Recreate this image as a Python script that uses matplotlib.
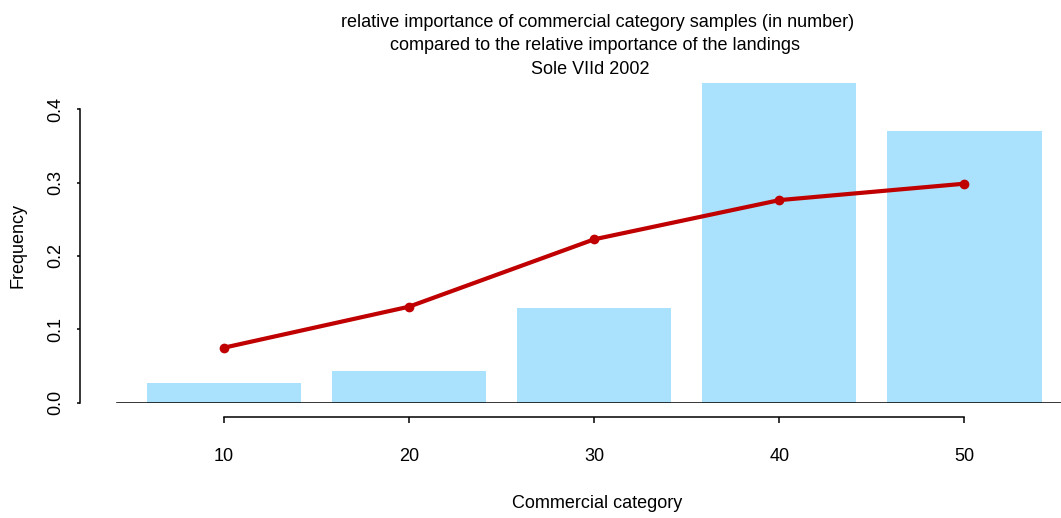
import matplotlib
matplotlib.use("Agg")
import matplotlib.pyplot as plt
from matplotlib import font_manager

# ---- data ----
categories = ["10", "20", "30", "40", "50"]
sample_freq = [0.0272, 0.0432, 0.1286, 0.4351, 0.3700]     # bars
landing_freq = [0.0749, 0.1308, 0.2226, 0.2760, 0.2984]     # red line
title_lines = ["relative importance of commercial category samples (in number)",
               "compared to the relative importance of the landings",
               "Sole VIId 2002"]
yticks = [0.0, 0.1, 0.2, 0.3, 0.4]

names = {f.name for f in font_manager.fontManager.ttflist}
FAM = ["Liberation Sans Narrow", "Liberation Sans"] if "Liberation Sans Narrow" in names else ["Liberation Sans", "DejaVu Sans"]
plt.rcParams["font.family"] = FAM
FS = 13

W, H, DPI = 1061, 518, 100
fig = plt.figure(figsize=(W / DPI, H / DPI), dpi=DPI)

# axes placement in pixels
left_px, right_px, top_px, bot_px = 110, 1061, 70, 402.7
ax = fig.add_axes([left_px / W, (H - bot_px) / H, (right_px - left_px) / W, (bot_px - top_px) / H])

# R barplot positions: width 1, space 0.2
pos = [0.7 + 1.2 * i for i in range(len(categories))]
bar_color = "#AAE1FC"
ax.bar(pos, sample_freq, width=1.0, color=bar_color, edgecolor="none", zorder=2)
ax.plot(pos, landing_freq, color="#C00000", lw=3.0, marker="o", ms=6, zorder=4,
        solid_capstyle="round")
ax.plot([0.008, 6.3], [0, 0], color="black", lw=1.1, zorder=3, clip_on=True)

ax.set_xlim(-0.0376, 6.1257)
ax.set_ylim(0, 0.4533)

for s in ["top", "right"]:
    ax.spines[s].set_visible(False)
pt = 72 / DPI
ax.spines["left"].set_position(("outward", 30.5 * pt))
ax.spines["left"].set_bounds(0, 0.4)
ax.spines["bottom"].set_position(("outward", 14 * pt))
ax.spines["bottom"].set_bounds(pos[0], pos[-1])
for s in ["left", "bottom"]:
    ax.spines[s].set_linewidth(1.1)

ax.set_yticks(yticks)
ax.set_yticklabels([f"{v:.1f}" for v in yticks], rotation=90, va="center", fontsize=FS)
ax.tick_params(axis="y", length=3 * pt, width=1.1, pad=12 * pt)
ax.set_xticks(pos)
ax.set_xticklabels(categories, fontsize=FS)
ax.tick_params(axis="x", length=6 * pt, width=1.1, pad=25 * pt)

# titles
ys = [27, 49.5, 74]
xs = [597.5, 595.5, 590]
for t, x, y in zip(title_lines, xs, ys):
    fig.text(x / W, 1 - y / H, t, ha="center", va="baseline", fontsize=FS)

fig.text(596.7 / W, 1 - 508 / H, "Commercial category", ha="center", va="baseline", fontsize=FS)
fig.text(18 / W, 1 - 245 / H, "Frequency", ha="center", va="center", rotation=90, fontsize=FS)

fig.savefig("out.png", dpi=DPI)
